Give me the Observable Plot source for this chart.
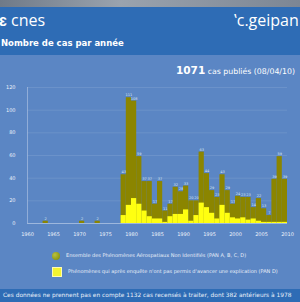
<!DOCTYPE html>
<html><head><meta charset="utf-8">
<script src="https://cdn.jsdelivr.net/npm/d3@7"></script>
<script src="https://cdn.jsdelivr.net/npm/@observablehq/plot@0.6"></script>
<style>
html,body{margin:0;padding:0;}
body{width:300px;height:302px;overflow:hidden;position:relative;background:#5b86c4;font-family:"DejaVu Sans",sans-serif;color:#fff;}
#strip{height:7px;background:linear-gradient(90deg,#6f7a88,#9aa3ae 40%,#7c8694);}
#header{height:48px;background:#2e6cb5;position:relative;}
#cnes{position:absolute;left:-1px;top:5px;font-family:"Open Sans",sans-serif;font-size:16px;line-height:16px;}
#geipan{position:absolute;left:234px;top:5px;font-family:"Open Sans",sans-serif;font-size:16px;line-height:16px;white-space:nowrap;}
#title{position:absolute;left:1px;top:31px;font-size:8.5px;font-weight:bold;white-space:nowrap;}
#count{position:absolute;left:176px;top:64px;white-space:nowrap;font-size:7.8px;}
#count b{font-size:10.5px;}
#chart{position:absolute;left:0;top:55px;}
.leg{position:absolute;left:52px;font-size:5px;white-space:nowrap;color:#e8eef8;}
.sw{display:inline-block;width:8px;height:8px;vertical-align:middle;margin-right:6px;}
#footer{position:absolute;left:0;top:289px;width:300px;height:13px;background:#2e6cb5;}
#footer span{position:absolute;left:3px;top:3px;font-size:5.9px;white-space:nowrap;color:#e8eef8;}
</style></head>
<body>
<div id="strip"></div>
<div id="header">
  <div id="cnes"><b>ɛ</b> cnes</div>
  <div id="geipan">‛c.geipan</div>
  <div id="title">Nombre de cas par année</div>
</div>
<div id="count"><b>1071</b> cas publiés (08/04/10)</div>
<div id="chart"></div>
<div class="leg" style="top:252px"><span class="sw" style="border-radius:50%;background:radial-gradient(circle at 35% 35%,#b8c040,#7d8a00)"></span>Ensemble des Phénomènes Aérospatiaux Non Identifiés (PAN A, B, C, D)</div>
<div class="leg" style="top:267px"><span class="sw" style="background:#f4f430;border:0.5px solid #fffbb0"></span>Phénomènes qui après enquête n'ont pas permis d'avancer une explication (PAN D)</div>
<div id="footer"><span>Ces données ne prennent pas en compte 1132 cas recensés à traiter, dont 382 antérieurs à 1978</span></div>
<script>
const years = [1963,1970,1973,1978,1979,1980,1981,1982,1983,1984,1985,1986,1987,1988,1989,1990,1991,1992,1993,1994,1995,1996,1997,1998,1999,2000,2001,2002,2003,2004,2005,2006,2007,2008,2009];
const totalCases = [2,2,2,43,111,108,59,37,37,17,37,11,17,32,28,33,20,20,63,44,29,23,43,29,17,24,23,23,14,22,13,7,39,59,39];
const panD = [0,0,0,7,16,22,17,11,6,4,4,1,6,8,8,12,2,7,18,14,9,4,16,9,5,4,5,3,4,2,1,1,1,1,1];
const xTicks = [1960,1965,1970,1975,1980,1985,1990,1995,2000,2005,2010];
const yTicks = [0,20,40,60,80,100,120];

const data = years.map((y,i)=>({year:y,total:totalCases[i],panD:panD[i]}));

const chart = Plot.plot({
  width:300, height:190,
  marginLeft:27, marginRight:13, marginTop:32, marginBottom:22,
  style:{background:"transparent", color:"#eef3fa", fontFamily:"DejaVu Sans", fontSize:"5px"},
  x:{domain:[1960,2010], ticks:xTicks, tickFormat:d=>String(d), tickSize:0, tickPadding:9, label:null},
  y:{domain:[0,120], ticks:yTicks, tickSize:0, tickPadding:12, label:null},
  marks:[
    Plot.gridY(yTicks,{stroke:"#ffffff",strokeOpacity:0.1}),
    Plot.ruleX([1960],{stroke:"#9fb8dd",strokeWidth:0.8}),
    Plot.rectY(data,{x1:"year",x2:d=>d.year+1,y:"total",fill:"#8b8500"}),
    Plot.rectY(data,{x1:"year",x2:d=>d.year+1,y:"panD",fill:"#ffff10"}),
    Plot.ruleY([0],{stroke:"#a9c0e2",strokeWidth:0.8}),
    Plot.text(data,{x:d=>d.year+0.5,y:"total",text:d=>String(d.total),dy:-2.5,fontSize:3.5,fill:"#dde6f2"})
  ]
});
document.getElementById("chart").appendChild(chart);
</script>
</body></html>
